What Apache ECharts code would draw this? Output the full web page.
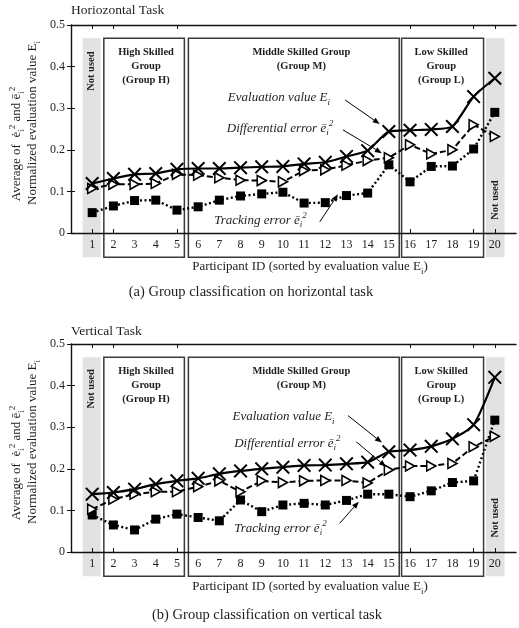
<!DOCTYPE html>
<html><head><meta charset="utf-8">
<script src="https://cdn.jsdelivr.net/npm/echarts@6/dist/echarts.min.js"></script>
<style>html,body{margin:0;padding:0;background:#fff}#c{width:519px;height:628px}</style>
</head><body><div id="c"></div>
<script>
// ---------- data ----------
const participants = [1,2,3,4,5,6,7,8,9,10,11,12,13,14,15,16,17,18,19,20];
const yTicks = [0, 0.1, 0.2, 0.3, 0.4, 0.5];
const visibleTickIds = [1,2,5,16,19,20];

// Horizontal task
const hEval  = [0.119,0.131,0.141,0.143,0.153,0.155,0.155,0.157,0.159,0.160,0.166,0.170,0.184,0.198,0.244,0.247,0.249,0.256,0.328,0.372];
const hDiff  = [0.107,0.117,0.117,0.119,0.141,0.139,0.133,0.127,0.126,0.123,0.150,0.152,0.163,0.174,0.181,0.212,0.190,0.200,0.260,0.232];
const hTrack = [0.049,0.065,0.078,0.079,0.055,0.063,0.079,0.089,0.094,0.098,0.072,0.073,0.090,0.096,0.164,0.123,0.160,0.161,0.202,0.290];
// Vertical task
const vEval  = [0.139,0.143,0.151,0.163,0.171,0.177,0.188,0.195,0.200,0.204,0.208,0.209,0.212,0.216,0.241,0.245,0.254,0.272,0.306,0.420];
const vDiff  = [0.103,0.127,0.139,0.145,0.145,0.157,0.171,0.145,0.171,0.167,0.171,0.172,0.172,0.166,0.197,0.207,0.207,0.213,0.253,0.278];
const vTrack = [0.089,0.065,0.053,0.079,0.091,0.083,0.075,0.125,0.097,0.113,0.117,0.113,0.124,0.139,0.139,0.133,0.147,0.167,0.171,0.317];

// group boxes (participant ranges)
const boxRanges = [
  {from:0.55, to:1.40, unused:true},
  {from:1.55, to:5.35},
  {from:5.54, to:15.49},
  {from:15.60, to:19.47},
  {from:19.58, to:20.46, unused:true}
];
const boxLabels = [
  {lines:['High Skilled','Group','(Group H)'], x:3.54},
  {lines:['Middle Skilled Group','(Group M)'], x:10.87},
  {lines:['Low Skilled','Group','(Group L)'], x:17.47}
];
// ---------- layout ----------
const FONT = '"Liberation Serif","Times New Roman",serif';
const TXT = '#1e1e1e';
const BOX_TOP = 0.468, BOX_BOTTOM = -0.058;
const LABEL_Y = [0.435, 0.401, 0.367];

const panels = [
  {title:'Horiozontal Task', caption:'(a) Group classification on horizontal task',
   evalV:hEval, diffV:hDiff, trackV:hTrack, top:25, titleY:10, nameY:267, captionX:251, captionY:292,
   y1:144, y2:123, unusedY:[0.389,0.079],
   ann:{evalT:[7.40,0.325], diffT:[7.35,0.252], trackT:[6.76,0.031],
        evalA:[[12.93,0.320],[14.57,0.262]], diffA:[[12.83,0.248],[14.67,0.192]], trackA:[[11.74,0.027],[12.60,0.093]]}},
  {title:'Vertical Task', caption:'(b) Group classification on vertical task',
   evalV:vEval, diffV:vDiff, trackV:vTrack, top:344, titleY:331, nameY:587, captionX:267, captionY:615,
   y1:463, y2:442, unusedY:[0.392,0.082],
   ann:{evalT:[7.62,0.325], diffT:[7.70,0.261], trackT:[7.70,0.057],
        evalA:[[13.07,0.328],[14.67,0.263]], diffA:[[13.46,0.265],[14.86,0.205]], trackA:[[12.68,0.069],[13.58,0.121]]}}
];

const GRID_LEFT = 71, GRID_W = 448, GRID_H = 208;

function richStyles(size, italic, bold){
  const base = {fontFamily:FONT, fontSize:size, fontStyle: italic?'italic':'normal', fontWeight: bold?'bold':'normal', fill:TXT, color:TXT};
  return {
    m: Object.assign({}, base, {lineHeight:size+5, verticalAlign:'middle'}),
    sub: Object.assign({}, base, {fontSize:Math.round(size*0.68), lineHeight:Math.round(size*0.68)+1, verticalAlign:'bottom'}),
    sup: Object.assign({}, base, {fontSize:Math.round(size*0.68), lineHeight:Math.round(size*0.68)+1, verticalAlign:'top'})
  };
}

function textEl(x, y, text, size, opts){
  opts = opts || {};
  return {
    type:'text', x:x, y:y, rotation: opts.rotation || 0, silent:true,
    style:{text:text, rich:richStyles(size, opts.italic, opts.bold),
      fontFamily:FONT, fontSize:size, fontStyle: opts.italic?'italic':'normal', fontWeight: opts.bold?'bold':'normal',
      fill:TXT, align: opts.align || 'center', verticalAlign:'middle',
      textAlign: opts.align || 'center', textVerticalAlign:'middle'}
  };
}

const X_PATH = 'path://M1,0 L5,4 L9,0 L10,1 L6,5 L10,9 L9,10 L5,6 L1,10 L0,9 L4,5 L0,1 Z';
const TRI_PATH = 'path://M0,0 L10,5 L0,10 Z';

const grids=[], xAxes=[], yAxes=[], series=[], graphics=[];
const axisLineStyle = {color:'#111', width:1.4};

panels.forEach((p,i)=>{
  grids.push({left:GRID_LEFT, top:p.top, width:GRID_W, height:GRID_H});
  const xBase = {type:'value', gridIndex:i, min:0, max:21, interval:1, z:3,
    axisLine:{show:true, onZero:false, lineStyle:axisLineStyle},
    axisTick:{show:true, inside:true, length:4, customValues:visibleTickIds, lineStyle:{color:'#111', width:1}},
    splitLine:{show:false}};
  xAxes.push(Object.assign({}, xBase, {position:'bottom',
    axisLabel:{show:true, formatter:v=> participants.indexOf(v)>=0 ? String(v) : '', fontFamily:FONT, fontSize:12, color:TXT, margin:6}}));
  xAxes.push(Object.assign({}, xBase, {position:'top', axisLabel:{show:false}}));
  const yBase = {type:'value', gridIndex:i, min:0, max:0.5, interval:0.1, z:3,
    axisTick:{show:true, inside:true, length:4, lineStyle:{color:'#111', width:1}}, splitLine:{show:false}};
  yAxes.push(Object.assign({}, yBase, {position:'left', axisLine:{show:true, lineStyle:axisLineStyle},
    axisLabel:{show:true, formatter:v=>{ const k = yTicks.findIndex(t=>Math.abs(t-v)<1e-9); return k===0 ? '0' : yTicks[k].toFixed(1); },
      fontFamily:FONT, fontSize:12, color:TXT, margin:6}}));
  yAxes.push(Object.assign({}, yBase, {position:'right', axisLine:{show:false}, axisLabel:{show:false}}));

  const xi = 2*i, yi = 2*i;
  // decorations: group boxes and labels
  series.push({type:'custom', xAxisIndex:xi, yAxisIndex:yi, clip:false, silent:true, z:1, animation:false,
    data:[[0,0]],
    renderItem:(params, api)=>{
      const ch = [];
      boxRanges.forEach(b=>{
        const a = api.coord([b.from, BOX_TOP]), c = api.coord([b.to, BOX_BOTTOM]);
        ch.push({type:'rect', shape:{x:a[0], y:a[1], width:c[0]-a[0], height:c[1]-a[1]},
          style: b.unused ? {fill:'#e2e2e2', stroke:null} : {fill:null, stroke:'#3a3a3a', lineWidth:1.5}});
      });
      boxLabels.forEach(l=>{
        l.lines.forEach((t,k)=>{
          const q = api.coord([l.x, LABEL_Y[k]]);
          ch.push(textEl(q[0], q[1], '{m|'+t+'}', 10.5, {bold:true}));
        });
      });
      const u1 = api.coord([boxRanges[0].from/2+boxRanges[0].to/2, p.unusedY[0]]);
      const u2 = api.coord([boxRanges[4].from/2+boxRanges[4].to/2, p.unusedY[1]]);
      ch.push(textEl(u1[0], u1[1], '{m|Not used}', 10.5, {bold:true, rotation:Math.PI/2}));
      ch.push(textEl(u2[0], u2[1], '{m|Not used}', 10.5, {bold:true, rotation:Math.PI/2}));
      return {type:'group', children:ch};
    }});

  series.push({type:'line', name:'Tracking error', xAxisIndex:xi, yAxisIndex:yi, z:4, animation:false, silent:true,
    data: participants.map((id,k)=>[id, p.trackV[k]]),
    symbol:'rect', symbolSize:9, showAllSymbol:true,
    itemStyle:{color:'#000'}, lineStyle:{color:'#000', width:2.4, type:[2,2.5]}});
  series.push({type:'line', name:'Differential error', xAxisIndex:xi, yAxisIndex:yi, z:5, animation:false, silent:true,
    data: participants.map((id,k)=>[id, p.diffV[k]]),
    symbol:TRI_PATH, symbolSize:[9,10], showAllSymbol:true,
    itemStyle:{color:'#fff', borderColor:'#000', borderWidth:1.6}, lineStyle:{color:'#000', width:2, type:[6,3]}});
  series.push({type:'line', name:'Evaluation value', xAxisIndex:xi, yAxisIndex:yi, z:6, animation:false, silent:true,
    data: participants.map((id,k)=>[id, p.evalV[k]]), smooth:0.2,
    symbol:X_PATH, symbolSize:14, showAllSymbol:true,
    itemStyle:{color:'#000'}, lineStyle:{color:'#000', width:2.2}});

  // annotations
  series.push({type:'custom', xAxisIndex:xi, yAxisIndex:yi, clip:false, silent:true, z:7, animation:false,
    data:[[0,0]],
    renderItem:(params, api)=>{
      const ch = [];
      const a = p.ann;
      const tE = api.coord(a.evalT), tD = api.coord(a.diffT), tT = api.coord(a.trackT);
      ch.push(textEl(tE[0], tE[1], '{m|Evaluation value E}{sub|i}', 13, {italic:true, align:'left'}));
      ch.push(textEl(tD[0], tD[1], '{m|Differential error ē}{sub|i}{sup|2}', 13, {italic:true, align:'left'}));
      ch.push(textEl(tT[0], tT[1], '{m|Tracking error ē}{sub|i}{sup|2}', 13, {italic:true, align:'left'}));
      [a.evalA, a.diffA, a.trackA].forEach(ar=>{
        const s = api.coord(ar[0]), e = api.coord(ar[1]);
        const dx = e[0]-s[0], dy = e[1]-s[1], L = Math.sqrt(dx*dx+dy*dy);
        const ux = dx/L, uy = dy/L, hl = 7, hw = 2.8;
        const bx = e[0]-ux*hl, by = e[1]-uy*hl;
        ch.push({type:'line', shape:{x1:s[0], y1:s[1], x2:bx, y2:by}, style:{stroke:'#000', lineWidth:1}});
        ch.push({type:'polygon', shape:{points:[[e[0],e[1]],[bx-uy*hw, by+ux*hw],[bx+uy*hw, by-ux*hw]]}, style:{fill:'#000'}});
      });
      return {type:'group', children:ch};
    }});

  // static texts
  graphics.push(textEl(GRID_LEFT, p.titleY, '{m|'+p.title+'}', 13.5, {align:'left'}));
  graphics.push(textEl(310, p.nameY, '{m|Participant ID (sorted by evaluation value E}{sub|i}{m|)}', 13));
  graphics.push(textEl(p.captionX, p.captionY, '{m|'+p.caption+'}', 14.5));
  graphics.push(textEl(17, p.y1, '{m|Average of  ė}{sub|i}{sup|2}{m| and ē}{sub|i}{sup|2}', 13, {rotation:Math.PI/2}));
  graphics.push(textEl(33, p.y2, '{m|Normalized evaluation value E}{sub|i}', 13, {rotation:Math.PI/2}));
});

const chart = echarts.init(document.getElementById('c'));
chart.setOption({
  animation:false, backgroundColor:'#fff',
  grid:grids, xAxis:xAxes, yAxis:yAxes, series:series,
  graphic:{elements:graphics}
});
</script></body></html>
